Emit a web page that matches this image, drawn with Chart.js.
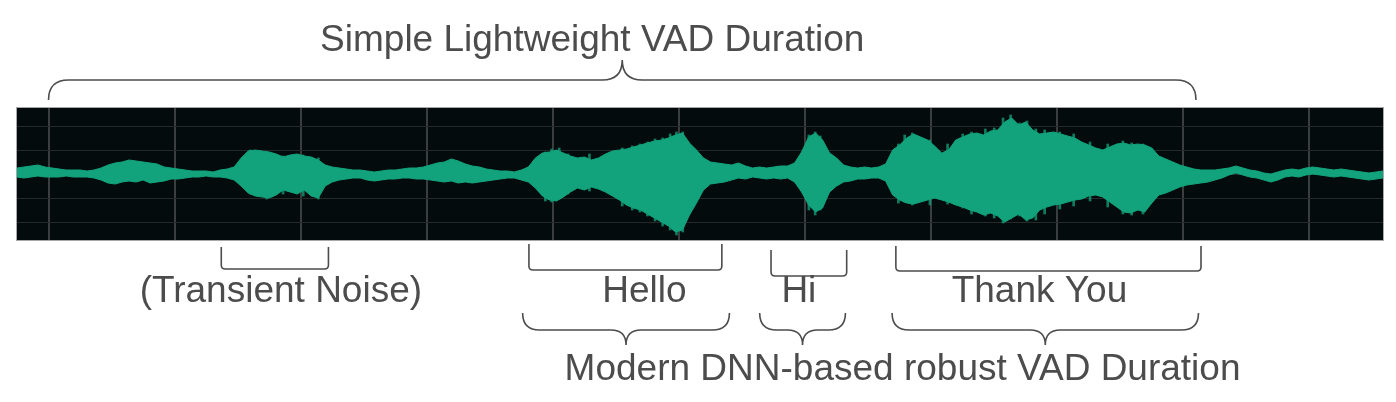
<!DOCTYPE html>
<html>
<head>
<meta charset="utf-8">
<script src="https://cdn.jsdelivr.net/npm/chart.js@4.4.1/dist/chart.umd.min.js"></script>
<style>
  html, body { margin: 0; padding: 0; background: #ffffff; }
  #wrap { width: 1396px; height: 402px; position: relative; }
</style>
</head>
<body>
<div id="wrap"><canvas id="vad"></canvas></div>
<script>
// waveform envelope, one value per frame (1/18 s)
const upperEnvelope = [
  6, 7, 8, 9, 7, 6, 5, 4, 4, 4, 3, 4, 6, 9, 11, 12, 14, 13, 12, 11,
  10, 7, 6, 5, 4, 3, 3, 3, 2, 4, 5, 7, 16, 23, 24, 23, 22, 20, 17, 19,
  20, 18, 17, 14, 9, 7, 6, 5, 4, 4, 3, 2, 3, 4, 4, 5, 6, 6, 7, 9,
  11, 12, 15, 13, 10, 8, 7, 5, 4, 3, 3, 2, 4, 7, 16, 21, 22, 24, 21, 18,
  16, 17, 14, 16, 20, 23, 24, 25, 27, 29, 31, 33, 34, 36, 39, 41, 31, 24, 16, 12,
  11, 10, 9, 11, 8, 6, 7, 6, 7, 8, 8, 11, 22, 37, 41, 34, 21, 16, 9, 7,
  6, 7, 6, 7, 10, 24, 29, 36, 40, 37, 34, 28, 21, 24, 34, 37, 40, 41, 39, 43,
  44, 52, 56, 49, 52, 44, 40, 41, 42, 40, 38, 36, 32, 29, 26, 24, 27, 30, 31, 29,
  30, 29, 26, 18, 15, 12, 9, 7, 5, 4, 4, 4, 5, 6, 8, 6, 4, 3, 1, 0,
  2, 4, 5, 4, 6, 7, 6, 5, 4, 5, 4, 3, 2, 1, 2, 3
];
const lowerEnvelope = [
  -3, -4, -3, -2, -3, -3, -3, -2, -3, -3, -3, -4, -6, -9, -10, -8, -7, -8, -6, -9,
  -8, -7, -5, -5, -4, -3, -3, -2, -3, -3, -4, -6, -12, -19, -22, -23, -24, -21, -16, -18,
  -20, -16, -22, -24, -12, -8, -6, -5, -4, -4, -6, -7, -6, -5, -5, -4, -4, -5, -5, -6,
  -7, -8, -7, -9, -8, -9, -8, -7, -6, -5, -4, -4, -6, -8, -14, -22, -26, -27, -23, -18,
  -14, -16, -13, -15, -18, -22, -26, -31, -34, -36, -40, -44, -48, -52, -58, -56, -41, -29, -16, -10,
  -9, -8, -6, -4, -5, -3, -4, -5, -4, -5, -4, -8, -18, -31, -38, -34, -18, -12, -8, -7,
  -5, -5, -4, -4, -7, -21, -26, -29, -30, -28, -26, -24, -26, -28, -31, -33, -36, -38, -41, -39,
  -42, -48, -44, -40, -46, -44, -36, -33, -31, -30, -28, -26, -25, -22, -21, -23, -28, -33, -38, -39,
  -36, -38, -29, -21, -19, -16, -13, -11, -10, -9, -8, -6, -4, -1, 1, -1, -3, -4, -6, -8,
  -6, -3, -2, -3, -1, 0, -1, -2, -3, -2, -3, -4, -5, -6, -5, -4
];
const frameStart = -0.25;   // seconds
const frameStep = 1 / 18;   // seconds per frame

// single peaks that stick out of the envelope
const spikeTimes = [
  1.60, 1.73, 1.86, 2.02, 2.14,
  3.94, 3.99, 4.05, 4.12, 4.29,
  4.55, 4.63, 4.69, 4.75, 4.81, 4.87, 4.93, 4.98, 5.03,
  6.03, 6.08, 6.12,
  6.74, 6.79, 6.85, 6.99, 7.13, 7.25, 7.32, 7.43, 7.50, 7.57, 7.63, 7.70, 7.76, 7.83,
  7.90, 8.02, 8.13, 8.26, 8.40, 8.52, 8.59, 8.68
];
const spikeHigh = [
  24, 20, 18, 19, 16,
  22, 25, 26, 20, 20,
  26, 28, 30, 32, 35, 36, 40, 42, 42,
  39, 42, 38,
  30, 39, 41, 34, 30, 40, 42, 45, 46, 56, 59, 51, 53, 45,
  44, 42, 40, 32, 30, 33, 31, 30
];
const spikeLow = [
  -20, -25, -20, -22, -25,
  -27, -28, -25, -20, -17,
  -32, -36, -38, -42, -47, -52, -56, -61, -58,
  -36, -41, -36,
  -29, -28, -31, -31, -30, -34, -40, -42, -44, -49, -45, -42, -47, -46,
  -40, -35, -32, -27, -33, -40, -41, -40
];

const gridSeconds = [0, 1, 2, 3, 4, 5, 6, 7, 8, 9, 10];
const gridLevels = [-48, -24, 0, 24, 48];

// annotated spans, in seconds
const simpleLabel = 'Simple Lightweight VAD Duration';
const simpleSpan = [0.0, 9.10];
const wordLabels = ['(Transient Noise)', 'Hello', 'Hi', 'Thank You'];
const wordStart = [1.37, 3.81, 5.73, 6.72];
const wordEnd = [2.22, 5.34, 6.33, 9.14];
const dnnLabel = 'Modern DNN-based robust VAD Duration';
const dnnStart = [3.76, 5.64, 6.69];
const dnnEnd = [5.40, 6.32, 9.12];

const frameTimes = upperEnvelope.map((_, i) => frameStart + i * frameStep);
const toPoints = (vals) => vals.map((v, i) => ({ x: frameTimes[i], y: v }));

const WAVE = '#12a37c';
const INK = '#4c4c4c';
const FONT = '37px "Liberation Sans", Arial, sans-serif';

// layout of the annotations, pixels relative to the plot area
const layout = {
  simpleTextShift: -30, simpleTextY: -57,
  simpleBrace: { end: -8, line: -28, tip: -48 },
  wordTop: [7, 4, 10, 6], wordBottom: [29, 30, 36, 31],
  wordTextShift: [6, 19, -10, -9], wordTextY: 62,
  dnnBrace: { end: 73, line: 90, tip: 105 },
  dnnTextShift: 42, dnnTextY: 140
};

function brace(ctx, x1, x2, yEnd, yLine, yTip) {
  const xm = (x1 + x2) / 2;
  const r = Math.abs(yLine - yEnd);
  const rt = Math.abs(yTip - yLine);
  ctx.beginPath();
  ctx.moveTo(x1, yEnd);
  ctx.quadraticCurveTo(x1, yLine, x1 + r, yLine);
  ctx.lineTo(xm - rt, yLine);
  ctx.quadraticCurveTo(xm, yLine, xm, yTip);
  ctx.quadraticCurveTo(xm, yLine, xm + rt, yLine);
  ctx.lineTo(x2 - r, yLine);
  ctx.quadraticCurveTo(x2, yLine, x2, yEnd);
  ctx.stroke();
}

function bracket(ctx, x1, x2, yTop, yBot) {
  const r = 4;
  ctx.beginPath();
  ctx.moveTo(x1, yTop);
  ctx.lineTo(x1, yBot - r);
  ctx.quadraticCurveTo(x1, yBot, x1 + r, yBot);
  ctx.lineTo(x2 - r, yBot);
  ctx.quadraticCurveTo(x2, yBot, x2, yBot - r);
  ctx.lineTo(x2, yTop);
  ctx.stroke();
}

const annotate = {
  id: 'annotate',
  beforeDraw(chart) {
    const { ctx, chartArea: a } = chart;
    ctx.save();
    ctx.fillStyle = '#040b0c';
    ctx.fillRect(a.left, a.top, a.right - a.left, a.bottom - a.top);
    ctx.restore();
  },
  afterDraw(chart) {
    const { ctx, chartArea: a } = chart;
    const x = chart.scales.x;
    ctx.save();
    ctx.strokeStyle = '#a8a8a8';
    ctx.lineWidth = 1;
    ctx.strokeRect(a.left - 0.5, a.top - 0.5, a.right - a.left + 1, a.bottom - a.top + 1);

    ctx.strokeStyle = INK;
    ctx.lineWidth = 1.6;
    ctx.fillStyle = INK;
    ctx.font = FONT;
    ctx.textAlign = 'center';
    ctx.textBaseline = 'alphabetic';

    // top brace + label
    const sx1 = x.getPixelForValue(simpleSpan[0]);
    const sx2 = x.getPixelForValue(simpleSpan[1]);
    const sb = layout.simpleBrace;
    brace(ctx, sx1, sx2, a.top + sb.end, a.top + sb.line, a.top + sb.tip);
    ctx.fillText(simpleLabel, (sx1 + sx2) / 2 + layout.simpleTextShift, a.top + layout.simpleTextY);

    // word brackets + labels
    wordLabels.forEach((label, i) => {
      const x1 = x.getPixelForValue(wordStart[i]);
      const x2 = x.getPixelForValue(wordEnd[i]);
      bracket(ctx, x1, x2, a.bottom + layout.wordTop[i], a.bottom + layout.wordBottom[i]);
      ctx.fillText(label, (x1 + x2) / 2 + layout.wordTextShift[i], a.bottom + layout.wordTextY);
    });

    // DNN braces + label
    const db = layout.dnnBrace;
    dnnStart.forEach((t, i) => {
      const x1 = x.getPixelForValue(t);
      const x2 = x.getPixelForValue(dnnEnd[i]);
      brace(ctx, x1, x2, a.bottom + db.end, a.bottom + db.line, a.bottom + db.tip);
    });
    const dx1 = x.getPixelForValue(dnnStart[0]);
    const dx2 = x.getPixelForValue(dnnEnd[dnnEnd.length - 1]);
    ctx.fillText(dnnLabel, (dx1 + dx2) / 2 + layout.dnnTextShift, a.bottom + layout.dnnTextY);
    ctx.restore();
  }
};

new Chart(document.getElementById('vad').getContext('2d'), {
  type: 'line',
  data: {
    datasets: [{
      label: 'upper',
      data: toPoints(upperEnvelope),
      borderColor: WAVE,
      backgroundColor: WAVE,
      borderWidth: 1,
      pointRadius: 0,
      fill: '+1',
      tension: 0
    }, {
      label: 'lower',
      data: toPoints(lowerEnvelope),
      borderColor: WAVE,
      backgroundColor: WAVE,
      borderWidth: 1,
      pointRadius: 0,
      fill: false,
      tension: 0
    }, {
      type: 'bar',
      label: 'peaks',
      data: spikeTimes.map((t, i) => ({ x: t, y: [spikeLow[i], spikeHigh[i]] })),
      backgroundColor: 'rgba(18, 163, 124, 0.75)',
      borderWidth: 0,
      barThickness: 2
    }]
  },
  options: {
    responsive: true,
    maintainAspectRatio: false,
    animation: false,
    devicePixelRatio: 1,
    layout: { padding: { left: 17, right: 13, top: 108, bottom: 162 } },
    plugins: { legend: { display: false }, tooltip: { enabled: false } },
    scales: {
      x: {
        type: 'linear',
        offset: false,
        min: frameStart,
        max: frameStart + (upperEnvelope.length - 1) * frameStep,
        afterBuildTicks: (s) => { s.ticks = gridSeconds.map(v => ({ value: v })); },
        ticks: { display: false },
        border: { display: false },
        grid: { color: '#3a3e3f', lineWidth: 2, drawTicks: false, offset: false }
      },
      y: {
        min: -66,
        max: 66,
        afterBuildTicks: (s) => { s.ticks = gridLevels.map(v => ({ value: v })); },
        ticks: { display: false },
        border: { display: false },
        grid: { color: '#25292a', lineWidth: 1, drawTicks: false }
      }
    }
  },
  plugins: [annotate]
});
</script>
</body>
</html>
